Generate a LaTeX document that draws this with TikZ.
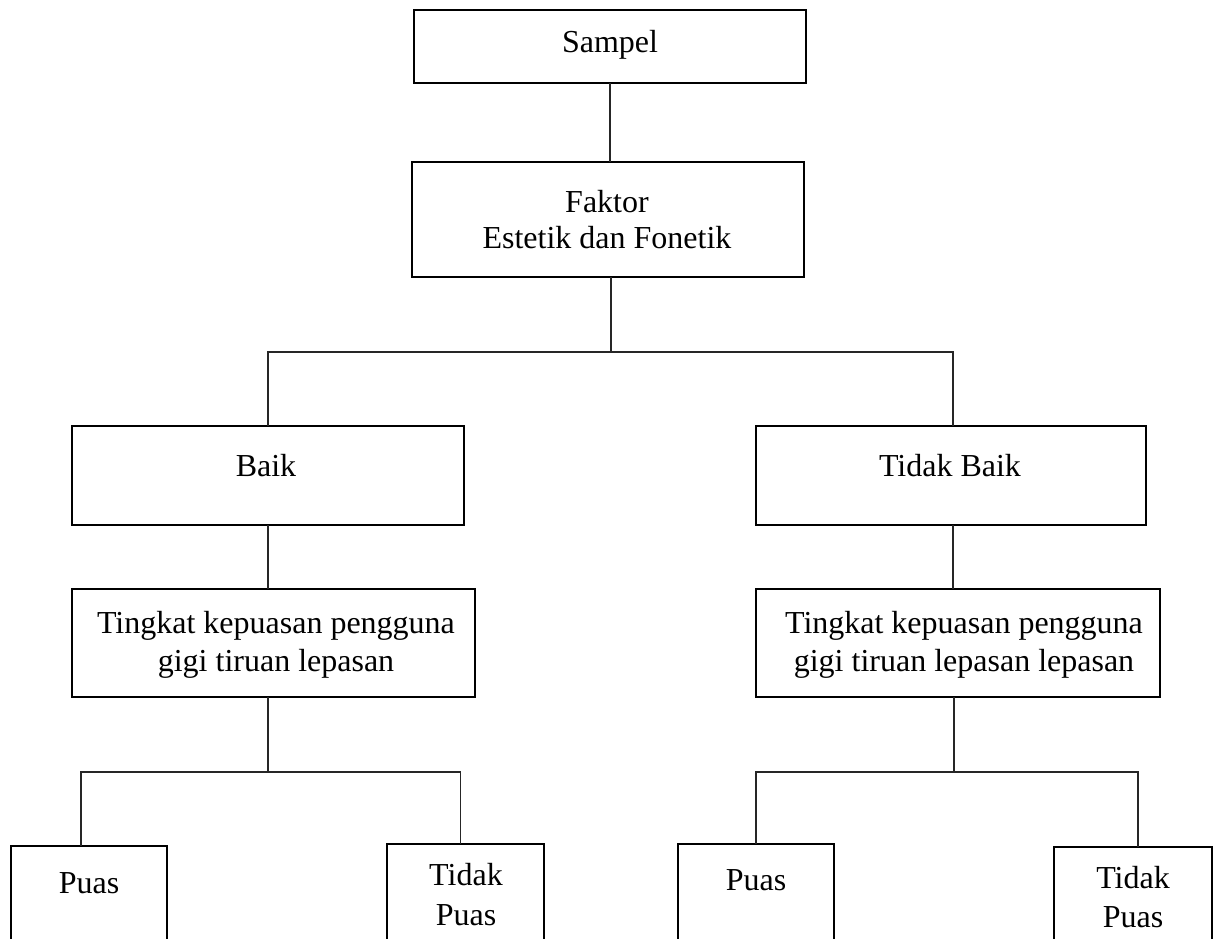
\documentclass[tikz,border=0pt]{standalone}
\usepackage{fontspec}
\setmainfont{Liberation Serif}
\begin{document}
\begin{tikzpicture}[x=1pt,y=-1pt,
  box/.style={draw=black,line width=2.8pt,inner sep=0pt,outer sep=0pt,anchor=north west},
  conn/.style={draw=black!85,line width=1.1pt},
  txt/.style={anchor=base,inner sep=0pt,font=\fontsize{32}{37}\selectfont}]
\useasboundingbox (0,0) rectangle (1219,938);
\begin{scope}
\clip (0,0) rectangle (1219,938);
% boxes
\node[box,minimum width=392pt,minimum height=73pt] (sampel) at (414,10) {};
\node[box,minimum width=392pt,minimum height=115pt] (faktor) at (412,162) {};
\node[box,minimum width=392pt,minimum height=99pt] (baik) at (72,426) {};
\node[box,minimum width=390pt,minimum height=99pt] (tbaik) at (756,426) {};
\node[box,minimum width=403pt,minimum height=108pt] (tkL) at (72,589) {};
\node[box,minimum width=404pt,minimum height=108pt] (tkR) at (756,589) {};
\node[box,minimum width=156pt,minimum height=120pt] (puasL) at (11,846) {};
\node[box,minimum width=157pt,minimum height=120pt] (tpuasL) at (387,844) {};
\node[box,minimum width=156pt,minimum height=120pt] (puasR) at (678,844) {};
\node[box,minimum width=158pt,minimum height=120pt] (tpuasR) at (1054,847) {};
% texts
\node[txt] (tSampel) at (610,52) {Sampel};
\node[txt] (tFaktor1) at (607,212) {Faktor};
\node[txt] (tFaktor2) at (607,248) {Estetik dan Fonetik};
\node[txt] (tBaik) at (266,476) {Baik};
\node[txt] (tTBaik) at (950,476) {Tidak Baik};
\node[txt] (tTkL1) at (276,633) {Tingkat kepuasan pengguna};
\node[txt] (tTkL2) at (276,671) {gigi tiruan lepasan};
\node[txt] (tTkR1) at (964,633) {Tingkat kepuasan pengguna};
\node[txt] (tTkR2) at (964,671) {gigi tiruan lepasan lepasan};
\node[txt] (tPuasL) at (89,893) {Puas};
\node[txt] (tTPuasL1) at (466,885) {Tidak};
\node[txt] (tTPuasL2) at (466,925) {Puas};
\node[txt] (tPuasR) at (756,890) {Puas};
\node[txt] (tTPuasR1) at (1133,888) {Tidak};
\node[txt] (tTPuasR2) at (1133,927) {Puas};
% junctions
\coordinate (jA) at (611,352);
\coordinate (jL) at (268,772);
\coordinate (jR) at (954,772);
% connectors
\draw[conn] (sampel.south) -- (sampel.south |- faktor.north);
\draw[conn] (faktor.south -| jA) -- (jA);
\draw[conn] (baik.north) |- (jA) -| ([xshift=2pt]tbaik.north);
\draw[conn] (baik.south) -- (baik.south |- tkL.north);
\draw[conn] ([xshift=2pt]tbaik.south) -- ([xshift=2pt]tbaik.south |- tkR.north);
\draw[conn] (tkL.south -| jL) -- (jL);
\draw[conn] (tkR.south -| jR) -- (jR);
\draw[conn] ([xshift=-8pt]puasL.north) |- (jL) -| ([xshift=-5pt]tpuasL.north);
\draw[conn] (puasR.north) |- (jR) -| ([xshift=5pt]tpuasR.north);
\end{scope}
\end{tikzpicture}
\end{document}
